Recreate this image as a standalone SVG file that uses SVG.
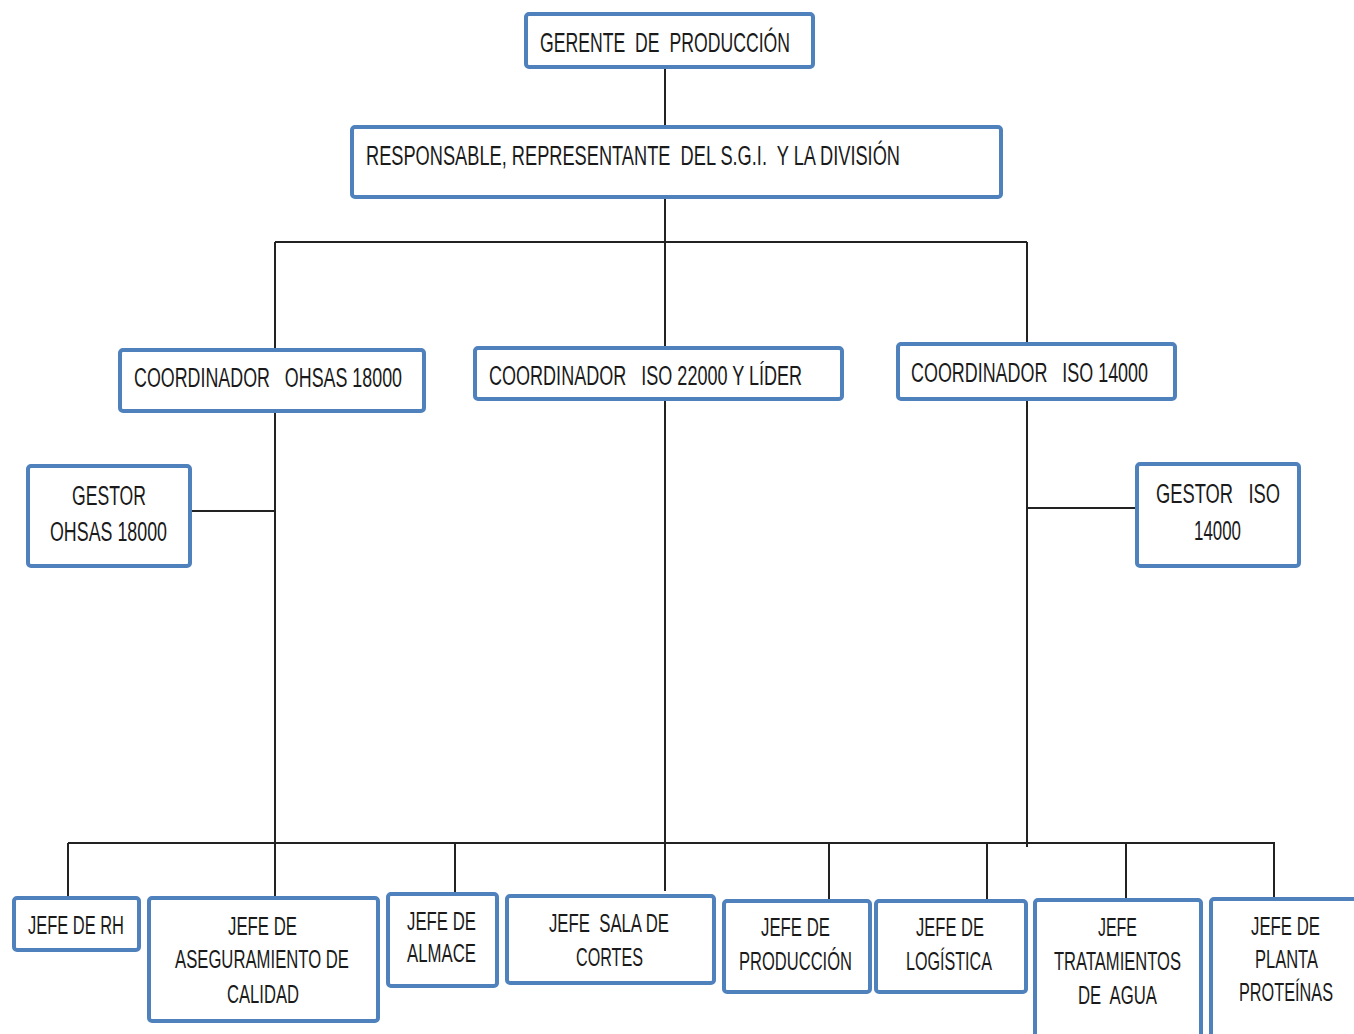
<svg xmlns="http://www.w3.org/2000/svg" width="1354" height="1034" viewBox="0 0 1354 1034">
  <style>
    .box { fill: #ffffff; stroke: #4f81bd; stroke-width: 4; }
    .lbl { font-family: "Liberation Sans", Arial, sans-serif; fill: #1a1a1a; white-space: pre; }
    .big { font-size: 27px; }
    .sm { font-size: 25px; }
    .mid { text-anchor: middle; }
    .wire { fill: none; stroke: #222222; stroke-width: 2; }
  </style>

  <!-- connectors -->
  <g id="connectors">
    <path class="wire" d="M665 68 V127"/>
    <path class="wire" d="M665 199 V348"/>
    <path class="wire" d="M665 399 V891"/>
    <path class="wire" d="M275 242 H1027"/>
    <path class="wire" d="M275 242 V350"/>
    <path class="wire" d="M1027 242 V344"/>
    <path class="wire" d="M275 411 V898"/>
    <path class="wire" d="M192 511 H275"/>
    <path class="wire" d="M1027 399 V847"/>
    <path class="wire" d="M1027 508 H1137"/>
    <path class="wire" d="M68 843 H1275"/>
    <path class="wire" d="M68 843 V898"/>
    <path class="wire" d="M455 843 V894"/>
    <path class="wire" d="M829 843 V901"/>
    <path class="wire" d="M987 843 V901"/>
    <path class="wire" d="M1126 843 V901"/>
    <path class="wire" d="M1274 843 V899"/>
  </g>

  <g id="gerente">
    <rect class="box" x="526" y="14" width="287" height="53" rx="3"/>
    <text class="lbl" x="540" y="52" font-size="28" textLength="250" lengthAdjust="spacingAndGlyphs">GERENTE  DE  PRODUCCIÓN</text>
  </g>

  <g id="responsable">
    <rect class="box" x="352" y="127" width="649" height="70" rx="3"/>
    <text class="lbl big" x="366" y="165" textLength="534" lengthAdjust="spacingAndGlyphs">RESPONSABLE, REPRESENTANTE  DEL S.G.I.  Y LA DIVISIÓN</text>
  </g>

  <g id="coord-ohsas">
    <rect class="box" x="120" y="350" width="304" height="61" rx="3"/>
    <text class="lbl big" x="134" y="387" textLength="268" lengthAdjust="spacingAndGlyphs">COORDINADOR   OHSAS 18000</text>
  </g>

  <g id="coord-iso22000">
    <rect class="box" x="475" y="348" width="367" height="51" rx="3"/>
    <text class="lbl big" x="489" y="385" textLength="313" lengthAdjust="spacingAndGlyphs">COORDINADOR   ISO 22000 Y LÍDER</text>
  </g>

  <g id="coord-iso14000">
    <rect class="box" x="898" y="344" width="277" height="55" rx="3"/>
    <text class="lbl big" x="911" y="382" textLength="237" lengthAdjust="spacingAndGlyphs">COORDINADOR   ISO 14000</text>
  </g>

  <g id="gestor-ohsas">
    <rect class="box" x="28" y="466" width="162" height="100" rx="3"/>
    <text class="lbl big mid" x="109" y="505" textLength="74" lengthAdjust="spacingAndGlyphs">GESTOR</text>
    <text class="lbl big mid" x="108.5" y="541" textLength="117" lengthAdjust="spacingAndGlyphs">OHSAS 18000</text>
  </g>

  <g id="gestor-iso">
    <rect class="box" x="1137" y="464" width="162" height="102" rx="3"/>
    <text class="lbl big mid" x="1218" y="503" textLength="124" lengthAdjust="spacingAndGlyphs">GESTOR   ISO</text>
    <text class="lbl big mid" x="1217.5" y="540" textLength="47" lengthAdjust="spacingAndGlyphs">14000</text>
  </g>

  <g id="jefe-rh">
    <rect class="box" x="14" y="898" width="125" height="52" rx="3"/>
    <text class="lbl sm mid" x="76" y="934" textLength="96" lengthAdjust="spacingAndGlyphs">JEFE DE RH</text>
  </g>

  <g id="jefe-calidad">
    <rect class="box" x="149" y="898" width="229" height="123" rx="3"/>
    <text class="lbl sm mid" x="262.5" y="935" textLength="69" lengthAdjust="spacingAndGlyphs">JEFE DE</text>
    <text class="lbl sm mid" x="262" y="968" textLength="174" lengthAdjust="spacingAndGlyphs">ASEGURAMIENTO DE</text>
    <text class="lbl sm mid" x="263" y="1003" textLength="72" lengthAdjust="spacingAndGlyphs">CALIDAD</text>
  </g>

  <g id="jefe-almacen">
    <rect class="box" x="388" y="894" width="109" height="92" rx="3"/>
    <text class="lbl sm mid" x="441.5" y="930" textLength="69" lengthAdjust="spacingAndGlyphs">JEFE DE</text>
    <text class="lbl sm mid" x="441.5" y="962" textLength="69" lengthAdjust="spacingAndGlyphs">ALMACE</text>
  </g>

  <g id="jefe-cortes">
    <rect class="box" x="507" y="896" width="207" height="87" rx="3"/>
    <text class="lbl sm mid" x="609" y="932" textLength="120" lengthAdjust="spacingAndGlyphs">JEFE  SALA DE</text>
    <text class="lbl sm mid" x="609.5" y="966" textLength="67" lengthAdjust="spacingAndGlyphs">CORTES</text>
  </g>

  <g id="jefe-produccion">
    <rect class="box" x="724" y="901" width="146" height="91" rx="3"/>
    <text class="lbl sm mid" x="795.5" y="936" textLength="69" lengthAdjust="spacingAndGlyphs">JEFE DE</text>
    <text class="lbl sm mid" x="795.5" y="970" textLength="113" lengthAdjust="spacingAndGlyphs">PRODUCCIÓN</text>
  </g>

  <g id="jefe-logistica">
    <rect class="box" x="876" y="901" width="150" height="91" rx="3"/>
    <text class="lbl sm mid" x="950" y="936" textLength="68" lengthAdjust="spacingAndGlyphs">JEFE DE</text>
    <text class="lbl sm mid" x="949" y="970" textLength="86" lengthAdjust="spacingAndGlyphs">LOGÍSTICA</text>
  </g>

  <g id="jefe-agua">
    <rect class="box" x="1035" y="900" width="166" height="150" rx="3"/>
    <text class="lbl sm mid" x="1117.5" y="936" textLength="39" lengthAdjust="spacingAndGlyphs">JEFE</text>
    <text class="lbl sm mid" x="1117.5" y="970" textLength="127" lengthAdjust="spacingAndGlyphs">TRATAMIENTOS</text>
    <text class="lbl sm mid" x="1117.5" y="1004" textLength="79" lengthAdjust="spacingAndGlyphs">DE  AGUA</text>
  </g>

  <g id="jefe-proteinas">
    <rect class="box" x="1211" y="899" width="170" height="150" rx="3"/>
    <text class="lbl sm mid" x="1285.5" y="935" textLength="69" lengthAdjust="spacingAndGlyphs">JEFE DE</text>
    <text class="lbl sm mid" x="1286.5" y="968" textLength="63" lengthAdjust="spacingAndGlyphs">PLANTA</text>
    <text class="lbl sm mid" x="1286" y="1001" textLength="94" lengthAdjust="spacingAndGlyphs">PROTEÍNAS</text>
  </g>
</svg>
